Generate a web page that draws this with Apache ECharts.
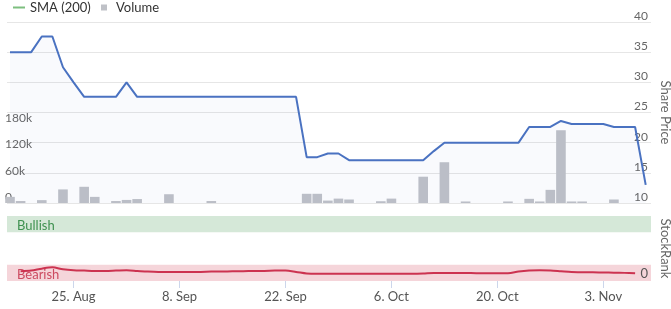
<!DOCTYPE html>
<html><head><meta charset="utf-8">
<script src="https://cdn.jsdelivr.net/npm/echarts@6/dist/echarts.min.js"></script>
<style>html,body{margin:0;padding:0;background:#fff}#c{width:671px;height:309px}</style>
</head><body><div id="c"></div>
<script>
// Business-day dates (ordinal x axis)
const dates = [
 '2025-08-15','2025-08-18','2025-08-19','2025-08-20','2025-08-21','2025-08-22',
 '2025-08-25','2025-08-26','2025-08-27','2025-08-28','2025-08-29',
 '2025-09-01','2025-09-02','2025-09-03','2025-09-04','2025-09-05',
 '2025-09-08','2025-09-09','2025-09-10','2025-09-11','2025-09-12',
 '2025-09-15','2025-09-16','2025-09-17','2025-09-18','2025-09-19',
 '2025-09-22','2025-09-23','2025-09-24','2025-09-25','2025-09-26',
 '2025-09-29','2025-09-30','2025-10-01','2025-10-02','2025-10-03',
 '2025-10-06','2025-10-07','2025-10-08','2025-10-09','2025-10-10',
 '2025-10-13','2025-10-14','2025-10-15','2025-10-16','2025-10-17',
 '2025-10-20','2025-10-21','2025-10-22','2025-10-23','2025-10-24',
 '2025-10-27','2025-10-28','2025-10-29','2025-10-30','2025-10-31',
 '2025-11-03','2025-11-04','2025-11-05','2025-11-06','2025-11-07'
];
const price = [
 35,35,35,37.6,37.6,32.5,30,27.6,27.6,27.6,
 27.6,30,27.6,27.6,27.6,27.6,27.6,27.6,27.6,27.6,
 27.6,27.6,27.6,27.6,27.6,27.6,27.6,27.6,17.6,17.6,
 18.2,18.2,17.1,17.1,17.1,17.1,17.1,17.1,17.1,17.1,
 18.6,20,20,20,20,20,20,20,20,22.6,
 22.6,22.6,23.6,23.1,23.1,23.1,23.1,22.6,22.6,22.6,
 13
];
const volume = [
 14000,4500,0,6500,0,31000,0,37000,14000,0,
 4500,7000,9000,0,0,20000,0,0,0,4500,
 0,0,0,0,0,0,0,0,21000,21000,
 5500,10000,8000,0,0,4000,10000,0,0,60000,
 0,93000,0,3500,0,0,0,3500,0,9500,
 3500,30000,166000,3500,3500,0,0,8000,0,0,
 0
];
const stockRank = [
 null,15,16,19,21,18,16.5,16,15.5,15.5,
 16,16.5,15.5,14.5,14,14,14,14,14,14.5,
 14.5,15,15,15.5,15.5,16,16,14,11.5,11,
 11,11,11,11,11,11,11,11,11,11.5,
 12.5,12.5,12.5,12.5,12,12,12,12,14.5,16,
 16.5,16,15,14,13.5,13.5,13,12.8,12.5,12,
 null
];
const sma200 = [];
const tickDates = ['2025-08-25','2025-09-08','2025-09-22','2025-10-06','2025-10-20','2025-11-03'];
const tickLabels = ['25. Aug','8. Sep','22. Sep','6. Oct','20. Oct','3. Nov'];
const volumeTicks = [0,60000,120000,180000];
const volumeTickLabels = ['0','60k','120k','180k'];
const rankTicks = [0];
const rankBands = [
 {name:'Bullish', from:75, to:100},
 {name:'Bearish', from:0, to:25}
];

const tickIdx = tickDates.map(d => dates.indexOf(d));
const pair = arr => arr.map((v,i) => [i, v]);
const FONT = 'Lato';

const chart = echarts.init(document.getElementById('c'), null, {renderer:'canvas'});
const xMin = -0.283, xMax = 60.5;
chart.setOption({
  animation:false,
  backgroundColor:'#ffffff',
  textStyle:{fontFamily:FONT},
  legend:[
    {left:13, top:1, padding:0, itemWidth:12, itemHeight:2, itemGap:10,
     data:[{name:'SMA (200)', icon:'rect'}],
     textStyle:{fontFamily:FONT, fontSize:13, color:'#333'}},
    {left:101, top:1, padding:0, itemWidth:6, itemHeight:6,
     data:[{name:'Volume', icon:'rect'}],
     textStyle:{fontFamily:FONT, fontSize:13, color:'#333', padding:[0,0,0,4]}}
  ],
  grid:[
    {left:7, right:20, top:22, height:181, outerBoundsMode:'none'},
    {left:7, right:20, top:216, height:65, outerBoundsMode:'none'}
  ],
  xAxis:[
    {type:'value', gridIndex:0, min:xMin, max:xMax, show:false},
    {type:'value', gridIndex:1, min:xMin, max:xMax,
     splitLine:{show:false}, axisLine:{show:false},
     axisTick:{show:true, length:7, lineStyle:{color:'#ccd6eb'}, customValues:tickIdx},
     axisLabel:{customValues:tickIdx, margin:9, fontSize:13, color:'#555', fontFamily:FONT,
       formatter: v => tickLabels[tickIdx.indexOf(Math.round(v))] || ''}}
  ],
  yAxis:[
    {type:'value', gridIndex:0, position:'right', min:10, max:40, interval:5,
     name:'Share Price', nameLocation:'middle', nameRotate:-90, nameGap:-3,
     nameTextStyle:{fontFamily:FONT, fontSize:13, color:'#666'},
     axisLine:{show:false}, axisTick:{show:false},
     splitLine:{lineStyle:{color:'#e6e6e6', width:1}},
     axisLabel:{inside:true, margin:3, fontSize:12, color:'#666', verticalAlign:'bottom', fontFamily:FONT}},
    {type:'value', gridIndex:0, position:'left', min:0, max:413000,
     axisLine:{show:false}, axisTick:{show:false}, splitLine:{show:false},
     axisLabel:{inside:true, margin:-2, fontSize:12, color:'#666', verticalAlign:'bottom', fontFamily:FONT,
       customValues:volumeTicks,
       formatter: v => volumeTickLabels[volumeTicks.indexOf(v)] || ''}},
    {type:'value', gridIndex:1, position:'right', min:0, max:100, z:10,
     name:'StockRank', nameLocation:'middle', nameRotate:-90, nameGap:-3,
     nameTextStyle:{fontFamily:FONT, fontSize:13, color:'#666'},
     axisLine:{show:false}, axisTick:{show:false}, splitLine:{show:false},
     axisLabel:{inside:true, margin:3, fontSize:13, color:'#555', verticalAlign:'bottom',
       showMinLabel:true, customValues:rankTicks, fontFamily:FONT, padding:[0,0,1,0],
       formatter: v => String(v)}}
  ],
  series:[
    {name:'Volume', type:'bar', xAxisIndex:0, yAxisIndex:1, data:pair(volume),
     barWidth:9.6, itemStyle:{color:'#bfc1c7'}, silent:true},
    {name:'Share Price', type:'line', xAxisIndex:0, yAxisIndex:0, data:pair(price),
     showSymbol:false, lineStyle:{color:'#4a72c1', width:2},
     areaStyle:{color:'rgba(74,114,193,0.05)'}, z:3},
    {name:'SMA (200)', type:'line', xAxisIndex:0, yAxisIndex:0, data:pair(sma200),
     showSymbol:false, itemStyle:{color:'#7dbf7f'}, lineStyle:{color:'#7dbf7f', width:1.5}},
    {name:'StockRank', type:'line', xAxisIndex:1, yAxisIndex:2, data:pair(stockRank),
     showSymbol:false, smooth:0.3, connectNulls:false,
     lineStyle:{color:'#cc3350', width:2}, itemStyle:{color:'#cc3350'},
     markArea:{silent:true,
       data: rankBands.map((b,i) => [
         {yAxis:b.from, name:b.name,
          itemStyle:{color: i===0 ? '#d5e8d8' : '#f5d5da'},
          label:{show:true, position:'insideBottomLeft', distance:0, padding:[0,0,0,10],
                 fontFamily:FONT, fontSize:13, color: i===0 ? '#3e9150' : '#cc4a60'}},
         {yAxis:b.to}
       ])}}
  ]
});
</script></body></html>
